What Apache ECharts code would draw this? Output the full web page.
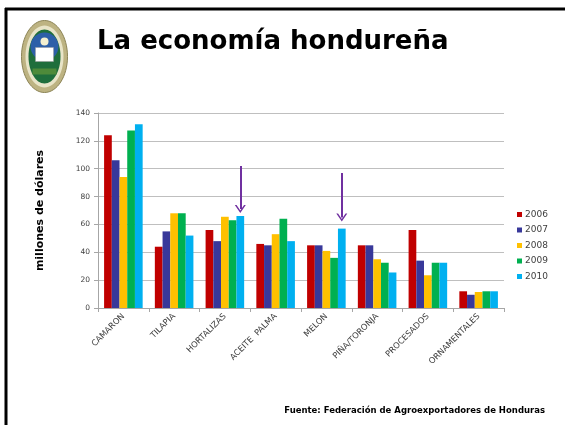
<!DOCTYPE html>
<html>
<head>
<meta charset="utf-8">
<script src="https://cdn.jsdelivr.net/npm/echarts@6/dist/echarts.min.js"></script>
<style>
html,body{margin:0;padding:0;background:#fff;}
#c{width:565px;height:425px;}
</style>
</head>
<body>
<div id="c"></div>
<script>
const categories = ['CAMARON','TILAPIA','HORTALIZAS','ACEITE  PALMA','MELON','PIÑA/TORONJA','PROCESADOS','ORNAMENTALES'];
const years = ['2006','2007','2008','2009','2010'];
const v2006 = [124, 44, 56, 46, 45, 45, 56, 12];
const v2007 = [106, 55, 48, 45, 45, 45, 34, 9.5];
const v2008 = [94, 68, 65.5, 53, 41, 35, 23.5, 11.5];
const v2009 = [127.5, 68, 63, 64, 36, 32.5, 32.5, 12];
const v2010 = [132, 52, 66, 48, 57, 25.5, 32.5, 12];
const yTicks = [0, 20, 40, 60, 80, 100, 120, 140];
// annotation arrows (category, top value, bottom value)
const arrows = [['HORTALIZAS', 102, 71], ['MELON', 97, 65]];

const colors = ['#C00000', '#38389A', '#FFC000', '#00B050', '#00B0F0'];
const seriesValues = [v2006, v2007, v2008, v2009, v2010];

const chart = echarts.init(document.getElementById('c'), null, {renderer: 'canvas'});

const chevron = 'path://M0,10 L5,0 L10,10 L8.4,10 L5,3.2 L1.6,10 Z';

const series = years.map((y, i) => {
  const s = {
    name: y,
    type: 'bar',
    data: seriesValues[i],
    itemStyle: {color: colors[i]},
    barGap: '0%',
    barCategoryGap: '24%'
  };
  if (i === 4) {
    s.markLine = {
      silent: true,
      symbol: ['none', chevron],
      symbolSize: [11, 8],
      label: {show: false},
      lineStyle: {color: '#7030A0', width: 2, type: 'solid'},
      data: arrows.map(a => [{coord: [a[0], a[1]]}, {coord: [a[0], a[2]]}])
    };
  }
  return s;
});

const option = {
  animation: false,
  backgroundColor: '#fff',
  textStyle: {fontFamily: 'DejaVu Sans'},
  graphic: [
    {type: 'line', shape: {x1: 5, y1: 9, x2: 565, y2: 9}, style: {stroke: '#000', lineWidth: 3}},
    {type: 'line', shape: {x1: 6, y1: 8, x2: 6, y2: 425}, style: {stroke: '#000', lineWidth: 3}},
    {type: 'text', left: 97, top: 29, style: {text: 'La economía hondureña', font: 'bold 26px "DejaVu Sans"', fill: '#000'}},
    {type: 'text', right: 20, top: 406, style: {text: 'Fuente: Federación de Agroexportadores de Honduras', font: 'bold 8.5px "DejaVu Sans"', fill: '#000'}},
    // logo
    {type: 'group', left: 21, top: 20, children: [
      {type: 'ellipse', shape: {cx: 23, cy: 36, rx: 23, ry: 36}, style: {fill: '#BDB382', stroke: '#8C8456', lineWidth: 1}},
      {type: 'ellipse', shape: {cx: 23, cy: 36, rx: 19, ry: 31}, style: {fill: '#E8E4C8'}},
      {type: 'ellipse', shape: {cx: 23, cy: 36, rx: 16, ry: 27}, style: {fill: '#1F6E3C'}},
      {type: 'ellipse', shape: {cx: 23, cy: 26, rx: 14, ry: 14}, style: {fill: '#2D5FA8'}},
      {type: 'rect', shape: {x: 14, y: 27, width: 18, height: 14}, style: {fill: '#FFFFFF', stroke: '#9A9A9A', lineWidth: 0.5}},
      {type: 'circle', shape: {cx: 23, cy: 21, r: 4}, style: {fill: '#F4F0D0'}},
      {type: 'rect', shape: {x: 11, y: 48, width: 24, height: 6}, style: {fill: '#4E8A3A'}}
    ]}
  ],
  legend: {
    orient: 'vertical',
    left: 512,
    top: 205,
    itemWidth: 5,
    itemHeight: 5,
    itemGap: 6.5,
    icon: 'rect',
    textStyle: {fontSize: 9, color: '#404040', fontFamily: 'DejaVu Sans', padding: [0, 0, 0, -2]},
    data: years
  },
  grid: {left: 98, right: 61, top: 113, bottom: 117, containLabel: false},
  xAxis: {
    type: 'category',
    data: categories,
    axisLine: {lineStyle: {color: '#A6A6A6', width: 1}},
    axisTick: {show: true, alignWithLabel: false, length: 4, lineStyle: {color: '#A6A6A6'}},
    axisLabel: {rotate: 45, fontSize: 8.3, color: '#404040', fontFamily: 'DejaVu Sans', margin: 7, interval: 0}
  },
  yAxis: {
    type: 'value',
    min: 0,
    max: 140,
    interval: 20,
    name: 'millones de dólares',
    nameLocation: 'middle',
    nameGap: 52,
    nameTextStyle: {fontSize: 11, fontWeight: 'bold', color: '#000', fontFamily: 'DejaVu Sans'},
    axisLine: {show: true, lineStyle: {color: '#A6A6A6'}},
    axisTick: {show: true, length: 4, lineStyle: {color: '#A6A6A6'}},
    axisLabel: {fontSize: 7.5, color: '#404040', fontFamily: 'DejaVu Sans', margin: 8,
      formatter: v => yTicks.includes(v) ? String(v) : ''},
    splitLine: {lineStyle: {color: '#BFBFBF', width: 1}}
  },
  series: series
};
chart.setOption(option);
</script>
</body>
</html>
